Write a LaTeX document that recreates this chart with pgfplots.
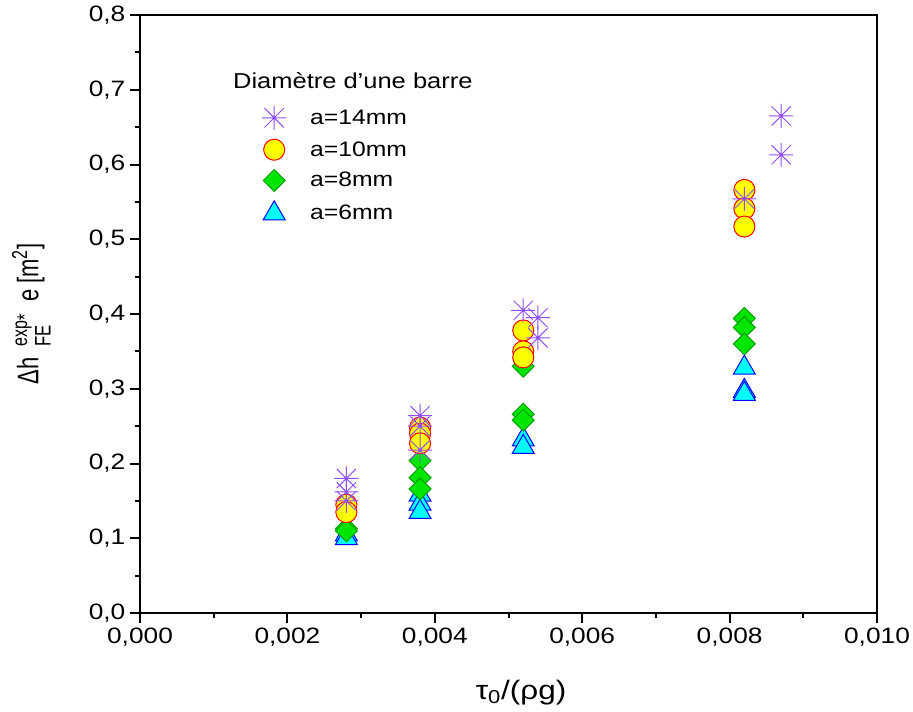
\documentclass[border=0pt]{standalone}
\usepackage{fontspec}
\setmainfont{Liberation Sans}[FakeStretch=1.18]
\newfontfamily\ylabfont{Liberation Sans}
\usepackage{graphicx}
\usepackage{pgfplots}
\pgfplotsset{compat=1.18}
\definecolor{starcol}{RGB}{145,80,255}
\definecolor{circfill}{RGB}{255,255,0}
\definecolor{circedge}{RGB}{255,0,0}
\definecolor{diafill}{RGB}{0,230,0}
\definecolor{diaedge}{RGB}{0,160,0}
\definecolor{trifill}{RGB}{0,255,255}
\definecolor{triedge}{RGB}{0,0,255}
\pgfdeclareplotmark{star8}{%
  \pgfpathmoveto{\pgfqpoint{-\pgfplotmarksize}{0pt}}%
  \pgfpathlineto{\pgfqpoint{\pgfplotmarksize}{0pt}}%
  \pgfpathmoveto{\pgfqpoint{0pt}{-\pgfplotmarksize}}%
  \pgfpathlineto{\pgfqpoint{0pt}{\pgfplotmarksize}}%
  \pgfpathmoveto{\pgfqpoint{-.8\pgfplotmarksize}{-.8\pgfplotmarksize}}%
  \pgfpathlineto{\pgfqpoint{.8\pgfplotmarksize}{.8\pgfplotmarksize}}%
  \pgfpathmoveto{\pgfqpoint{-.8\pgfplotmarksize}{.8\pgfplotmarksize}}%
  \pgfpathlineto{\pgfqpoint{.8\pgfplotmarksize}{-.8\pgfplotmarksize}}%
  \pgfusepathqstroke}
\begin{document}
\begin{tikzpicture}
\useasboundingbox (-105pt,-73.5pt) rectangle (579.75pt,459.75pt);
\begin{axis}[
  scale only axis,
  width=552.75pt, height=448.5pt,
  xmin=0, xmax=0.010, ymin=0, ymax=0.8,
  xtick={0,0.002,...,0.0101},
  ytick={0,0.1,...,0.81},
  minor x tick num=1, minor y tick num=1,
  tick pos=left,
  tick align=outside,
  major tick length=7.5pt, minor tick length=3.75pt,
  every tick/.style={black, line width=1.5pt},
  axis line style={line width=1.5pt},
  scaled x ticks=false,
  xticklabel style={/pgf/number format/.cd, fixed, fixed zerofill, precision=3, use comma, assume math mode=true},
  yticklabel style={/pgf/number format/.cd, fixed, fixed zerofill, precision=1, use comma, assume math mode=true},
  ticklabel style={font=\fontsize{16.7}{18}\selectfont},
  xlabel={τ\textsubscript{0}/(ρg)},
  xlabel style={font=\fontsize{20}{24}\selectfont, at={(axis description cs:0.517,-0.105)}, anchor=north},
  ylabel={\scalebox{1}[1.35]{\ylabfont{\fontsize{16.5}{18}\selectfont Δh}\hspace{8.5pt}$^{\mbox{\ylabfont\fontsize{12}{12}\selectfont exp\raisebox{-0.45ex}{*}}}_{\mbox{\ylabfont\fontsize{12.5}{12}\selectfont FE}}$\hspace{9.5pt}{\fontsize{16.5}{18}\selectfont e}\hspace{4pt}{\fontsize{16.5}{18}\selectfont [m$^{\mbox{\ylabfont\fontsize{12}{12}\selectfont 2}}$]}}},
  ylabel style={at={(axis description cs:-0.115,0.5)}, anchor=south},
  legend style={draw=none, fill=none, at={(axis description cs:0.160,0.853)}, anchor=north west,
    font=\fontsize{15.7}{18}\selectfont, row sep=7pt, nodes={inner sep=1pt},
    /tikz/every odd column/.append style={column sep=17pt}},
  legend cell align=left,
  reverse legend,
  clip=false,
]
\addplot[only marks, mark=triangle*, mark size=9.5pt, mark options={fill=trifill, draw=triedge, line width=0.75pt}] coordinates {
(0.0028,0.105) (0.0028,0.100)
(0.0038,0.158) (0.0038,0.146) (0.0038,0.135)
(0.0052,0.232) (0.0052,0.222)
(0.0082,0.328) (0.0082,0.297) (0.0082,0.293)
};
\addlegendentry{a=6mm}
\addplot[only marks, mark=square*, mark size=5.8pt, mark options={rotate=45, fill=diafill, draw=diaedge, line width=0.75pt}] coordinates {
(0.0028,0.113) (0.0028,0.110)
(0.0038,0.204) (0.0038,0.181) (0.0038,0.166)
(0.0052,0.330) (0.0052,0.266) (0.0052,0.258)
(0.0082,0.394) (0.0082,0.382) (0.0082,0.360)
};
\addlegendentry{a=8mm}
\addplot[only marks, mark=*, mark size=7.9pt, mark options={fill=circfill, draw=circedge, line width=0.75pt}] coordinates {
(0.0028,0.145) (0.0028,0.135)
(0.0038,0.248) (0.0038,0.240) (0.0038,0.227)
(0.0052,0.378) (0.0052,0.350) (0.0052,0.342)
(0.0082,0.566) (0.0082,0.541) (0.0082,0.517)
};
\addlegendentry{a=10mm}
\addplot[only marks, mark=star8, mark size=9pt, mark options={draw=starcol, line width=0.75pt}] coordinates {
(0.0028,0.180) (0.0028,0.162) (0.0028,0.150)
(0.0038,0.264) (0.0038,0.250) (0.0038,0.218)
(0.0052,0.405) (0.0054,0.395) (0.0054,0.368)
(0.0082,0.554) (0.0087,0.665) (0.0087,0.613)
};
\addlegendentry{a=14mm}
\node[anchor=west, font=\fontsize{16.2}{18}\selectfont, inner sep=0pt] at (axis description cs:0.126,0.891) {Diamètre d'une barre};
\end{axis}
\end{tikzpicture}
\end{document}
